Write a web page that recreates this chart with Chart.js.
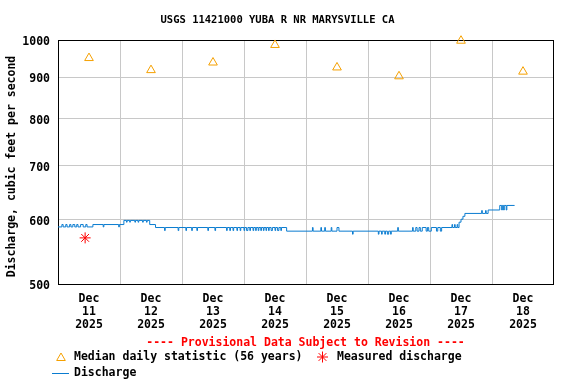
<!DOCTYPE html>
<html><head><meta charset="utf-8">
<script src="https://cdn.jsdelivr.net/npm/chart.js@4"></script>
<style>html,body{margin:0;padding:0;background:#fff}#wrap{width:576px;height:384px;position:relative}</style>
</head><body><div id="wrap"><canvas id="c" width="576" height="384"></canvas></div>
<script>
const chartTitle = 'USGS 11421000 YUBA R NR MARYSVILLE CA';
const yAxisTitle = 'Discharge, cubic feet per second';
const provisionalNote = '---- Provisional Data Subject to Revision ----';
const legendLabels = ['Median daily statistic (56 years)', 'Measured discharge', 'Discharge'];

// x axis: hours since Dec 11 2025 00:00
const xTickLabels = [
  ['Dec','11','2025'], ['Dec','12','2025'], ['Dec','13','2025'], ['Dec','14','2025'],
  ['Dec','15','2025'], ['Dec','16','2025'], ['Dec','17','2025'], ['Dec','18','2025']
];
const yTickValues = [500, 600, 700, 800, 900, 1000];

const medianHours  = [12, 36, 60, 84, 108, 132, 156, 180];
const medianValues = [950, 918, 938, 986, 925, 902, 998, 914];

const measuredHours  = [10.5];
const measuredValues = [570];

// discharge readings [hour, cfs]; each value holds until the next reading
const dischargeDec11 = [[0,588],[1.5,592],[2,588],[3,592],[3.5,588],[4.5,592],[5,588],[5.75,592],[6.5,588],[7.25,592],[7.75,588],[8.75,592],[9.75,588],[10.75,592],[11.25,588],[13.5,592],[17.5,588],[17.75,592],[23.5,588],[23.75,592]];
const dischargeDec12 = [[25.5,599],[26.5,596],[26.75,599],[27.75,596],[28,599],[29.75,596],[30,599],[31,596],[31.25,599],[32.75,596],[33,599],[34.25,596],[34.5,599],[35.5,592],[37.75,587],[41.25,582],[41.5,587],[46.5,582],[46.75,587]];
const dischargeDec13 = [[49.5,582],[49.75,587],[51.75,582],[52,587],[53.75,582],[54,587],[58,582],[58.25,587],[60.75,582],[61,587],[65.25,582],[65.5,587],[66.5,582],[66.75,587],[67.75,582],[68,587],[69.25,582],[69.5,587],[70.5,582],[70.75,587]];
const dischargeDec14 = [[72,582],[72.25,587],[73,582],[73.5,587],[74.25,582],[74.5,587],[75.5,582],[75.75,587],[76.5,582],[76.75,587],[77.5,582],[77.75,587],[78.5,582],[78.75,587],[79.5,582],[79.75,587],[80.5,582],[80.75,587],[81.5,582],[81.75,587],[82.5,582],[83,587],[84,582],[84.25,587],[85,582],[85.5,587],[86.25,582],[86.5,587],[88.5,581]];
const dischargeDec15 = [[98.5,587],[98.75,581],[101.75,587],[102,581],[103.25,587],[103.5,581],[105.75,587],[106,581],[108,587],[108.75,581],[114,576],[114.25,581]];
const dischargeDec16 = [[124,576],[124.25,581],[125.25,576],[125.5,581],[126.5,576],[126.75,581],[127.5,576],[128,581],[128.75,576],[129,581],[131.5,587],[131.75,581],[137.25,587],[137.5,581],[138.5,587],[139,581],[139.75,587],[140.25,581],[141,587],[142.5,581],[143,587]];
const dischargeDec17 = [[143.5,581],[144.5,587],[146.5,581],[147,587],[148,581],[148.5,587],[152.5,592],[152.75,587],[153.5,592],[153.75,587],[154.5,592],[154.75,587],[155.25,596],[156,601],[156.75,606],[157.5,611],[164,616],[164.25,611],[165.5,616],[165.75,611],[166.5,617]];
const dischargeDec18 = [[171,625],[171.75,617],[172,625],[172.5,617],[172.75,625],[173.5,617],[173.75,625],[176.75,625]];

const COL_MEDIAN = '#f5a000';
const COL_MEAS = '#ff0000';
const COL_Q = '#0a7cd0';
const COL_GRID = '#c8c8c8';
const FAM = '"DejaVu Sans Mono", "Liberation Mono", monospace';
const F_MAIN = 'bold 11.5px ' + FAM;

const dischargeAll = [].concat(dischargeDec11, dischargeDec12, dischargeDec13, dischargeDec14,
  dischargeDec15, dischargeDec16, dischargeDec17, dischargeDec18);

function triangle(ctx, x, y, r) {
  ctx.beginPath();
  ctx.moveTo(x, y - r);
  ctx.lineTo(x + r * Math.sin(2*Math.PI/3), y - r * Math.cos(2*Math.PI/3));
  ctx.lineTo(x + r * Math.sin(4*Math.PI/3), y - r * Math.cos(4*Math.PI/3));
  ctx.closePath();
  ctx.stroke();
}
function star(ctx, x, y, r) {
  ctx.beginPath();
  const d = r * Math.cos(Math.PI/4);
  ctx.moveTo(x - r, y); ctx.lineTo(x + r, y);
  ctx.moveTo(x, y - r); ctx.lineTo(x, y + r);
  ctx.moveTo(x - d, y - d); ctx.lineTo(x + d, y + d);
  ctx.moveTo(x - d, y + d); ctx.lineTo(x + d, y - d);
  ctx.stroke();
}

const decor = {
  id: 'decor',
  beforeDatasetsDraw(chart) {
    const {ctx, chartArea: a} = chart;
    ctx.save();
    ctx.strokeStyle = '#000'; ctx.lineWidth = 1;
    ctx.strokeRect(a.left + 0.5, a.top + 0.5, a.right - a.left - 1, a.bottom - a.top);
    ctx.restore();
  },
  afterDraw(chart) {
    const ctx = chart.ctx;
    ctx.save();
    ctx.fillStyle = '#000';
    ctx.textBaseline = 'middle';
    ctx.textAlign = 'center';
    ctx.font = 'bold 10.5px ' + FAM;
    ctx.fillText(chartTitle, 277.5, 20);

    ctx.font = F_MAIN;
    ctx.save();
    ctx.translate(12, 166.5);
    ctx.rotate(-Math.PI/2);
    ctx.fillText(yAxisTitle, 0, 0);
    ctx.restore();

    ctx.fillStyle = COL_MEAS;
    ctx.fillText(provisionalNote, 305.5, 343);

    ctx.lineWidth = 1;
    ctx.strokeStyle = COL_MEDIAN;
    triangle(ctx, 61, 358, 5);
    ctx.strokeStyle = COL_MEAS;
    star(ctx, 322.5, 357, 5.5);
    ctx.strokeStyle = COL_Q;
    ctx.beginPath(); ctx.moveTo(52, 373.5); ctx.lineTo(69, 373.5); ctx.stroke();

    ctx.fillStyle = '#000';
    ctx.textAlign = 'left';
    ctx.fillText(legendLabels[0], 74, 357);
    ctx.fillText(legendLabels[1], 337, 357);
    ctx.fillText(legendLabels[2], 74, 373);
    ctx.restore();
  }
};

new Chart(document.getElementById('c'), {
  type: 'line',
  data: {
    datasets: [
      {
        label: 'Discharge',
        data: dischargeAll.map(p => ({x: p[0], y: p[1]})),
        stepped: true,
        borderColor: COL_Q,
        borderWidth: 1,
        pointRadius: 0,
        fill: false
      },
      {
        label: 'Median daily statistic (56 years)',
        data: medianHours.map((h, i) => ({x: h, y: medianValues[i]})),
        showLine: false,
        pointStyle: 'triangle',
        pointRadius: 5,
        pointBorderWidth: 1,
        pointBorderColor: COL_MEDIAN,
        pointBackgroundColor: 'rgba(0,0,0,0)',
        clip: false
      },
      {
        label: 'Measured discharge',
        data: measuredHours.map((h, i) => ({x: h, y: measuredValues[i]})),
        showLine: false,
        pointStyle: 'star',
        pointRadius: 5.5,
        pointBorderWidth: 1,
        pointBorderColor: COL_MEAS,
        pointBackgroundColor: COL_MEAS,
        clip: false
      }
    ]
  },
  options: {
    responsive: false,
    animation: false,
    devicePixelRatio: 1,
    layout: {padding: {top: 40, right: 22, bottom: 0, left: 0}},
    plugins: {legend: {display: false}, tooltip: {enabled: false}, title: {display: false}},
    scales: {
      x: {
        type: 'linear', min: 0, max: 192,
        afterBuildTicks: s => { s.ticks = []; for (let v = 0; v <= 192; v += 12) s.ticks.push({value: v}); },
        afterFit: s => { s.height = 100; },
        border: {display: false},
        grid: {
          drawTicks: false,
          color: c => (c.tick && c.tick.value % 24 === 0 && c.tick.value > 0 && c.tick.value < 192) ? COL_GRID : 'rgba(0,0,0,0)',
          lineWidth: 1
        },
        ticks: {
          autoSkip: false, maxRotation: 0, minRotation: 0, padding: 8,
          color: '#000',
          font: {family: FAM, size: 11.5, weight: 'bold', lineHeight: 1.15},
          callback: v => (v % 24 === 12) ? xTickLabels[(v - 12) / 24] : ''
        }
      },
      y: {
        type: 'logarithmic', min: 500, max: 1000,
        afterBuildTicks: s => { s.ticks = yTickValues.map(v => ({value: v})); },
        afterFit: s => { s.width = 58; },
        border: {display: false},
        grid: {drawTicks: false, color: COL_GRID, lineWidth: 1},
        ticks: {
          autoSkip: false, padding: 8, color: '#000', labelOffset: 2,
          font: {family: FAM, size: 11.5, weight: 'bold'},
          callback: v => String(v)
        }
      }
    }
  },
  plugins: [decor]
});
</script>
</body></html>
